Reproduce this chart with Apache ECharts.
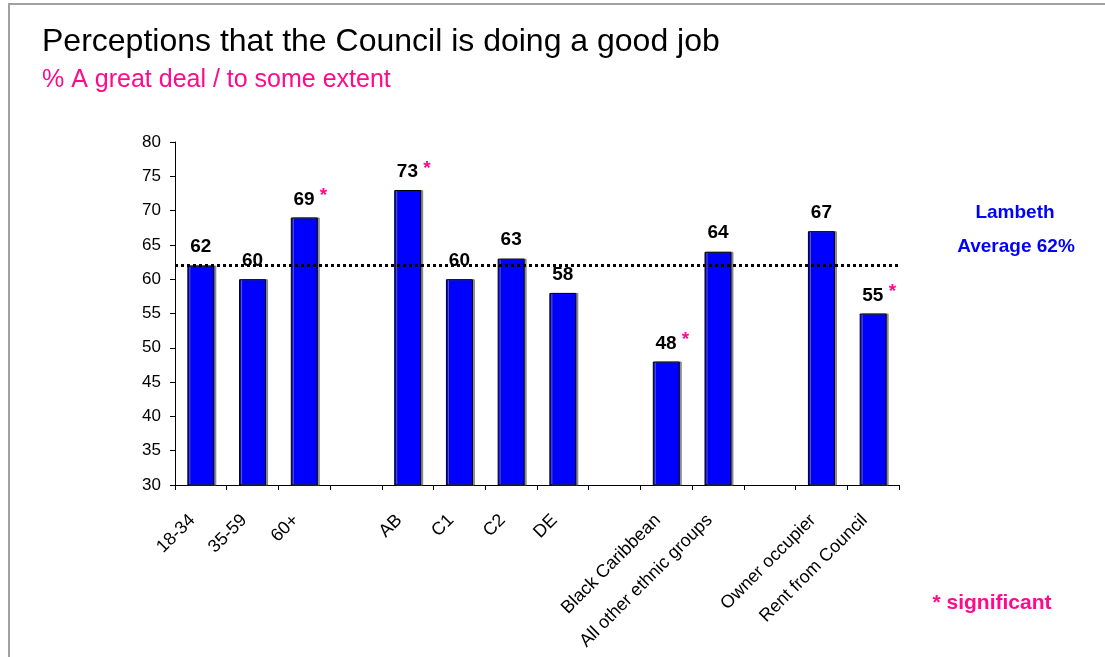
<!DOCTYPE html>
<html>
<head>
<meta charset="utf-8">
<script src="https://cdn.jsdelivr.net/npm/echarts@6/dist/echarts.min.js"></script>
<style>
  html, body { margin: 0; padding: 0; background: #fff; }
  #chart { width: 1105px; height: 657px; }
</style>
</head>
<body>
<div id="chart"></div>
<script>
// Groups are separated by empty categories
const categories = ['18-34', '35-59', '60+', '', 'AB', 'C1', 'C2', 'DE', '',
  'Black Caribbean', 'All other ethnic groups', '', 'Owner occupier', 'Rent from Council'];
const values = [62, 60, 69, null, 73, 60, 63, 58, null, 48, 64, null, 67, 55];
const significant = [false, false, true, false, true, false, false, false, false,
  true, false, false, false, true];
const lambethAverage = 62;
const yTicks = { min: 30, max: 80, step: 5 };

const PINK = '#FF0A8C';
const FONT = 'Liberation Sans, Arial, sans-serif';

const barData = values.map((v, i) => {
  if (v == null) return null;
  const item = { value: v };
  if (significant[i]) {
    item.label = {
      formatter: '{v|{c}}{s| *}',
      offset: [6, 4]
    };
  }
  return item;
});

const chart = echarts.init(document.getElementById('chart'));
chart.setOption({
  animation: false,
  textStyle: { fontFamily: FONT },
  grid: { left: 175, right: 206, top: 142, bottom: 172 },
  graphic: [
    {
      type: 'rect', silent: true,
      shape: { x: 9, y: 4, width: 1200, height: 700 },
      style: { fill: 'none', stroke: '#a0a0a0', lineWidth: 2 }
    },
    {
      type: 'text', x: 42, y: 42,
      style: { text: 'Perceptions that the Council is doing a good job',
        font: '32px ' + FONT, fill: '#000', verticalAlign: 'middle' }
    },
    {
      type: 'text', x: 42, y: 80,
      style: { text: '% A great deal / to some extent',
        font: '25px ' + FONT, fill: PINK, verticalAlign: 'middle' }
    },
    {
      type: 'text', x: 1015, y: 213,
      style: { text: 'Lambeth', font: 'bold 19px ' + FONT, fill: '#0000FF',
        align: 'center', verticalAlign: 'middle' }
    },
    {
      type: 'text', x: 1016, y: 247,
      style: { text: 'Average 62%', font: 'bold 19px ' + FONT, fill: '#0000FF',
        align: 'center', verticalAlign: 'middle' }
    },
    {
      type: 'text', x: 992, y: 603,
      style: { text: '* significant', font: 'bold 21px ' + FONT, fill: PINK,
        align: 'center', verticalAlign: 'middle' }
    }
  ],
  xAxis: {
    type: 'category',
    data: categories,
    boundaryGap: true,
    axisLine: { lineStyle: { color: '#000', width: 1 } },
    axisTick: { show: true, alignWithLabel: false, interval: 0, length: 5,
      lineStyle: { color: '#000' } },
    axisLabel: { interval: 0, rotate: 45, fontSize: 18, color: '#000',
      fontFamily: FONT, margin: 24, padding: [0, 12, 0, 0] },
    splitLine: { show: false }
  },
  yAxis: {
    type: 'value',
    min: yTicks.min, max: yTicks.max, interval: yTicks.step,
    axisLine: { show: true, lineStyle: { color: '#000', width: 1 } },
    axisTick: { show: true, length: 5, lineStyle: { color: '#000' } },
    axisLabel: { fontSize: 17, color: '#000', fontFamily: FONT, margin: 14 },
    splitLine: { show: false }
  },
  series: [{
    type: 'bar',
    data: barData,
    barWidth: 27,
    itemStyle: {
      color: '#0000FF',
      borderColor: '#000',
      borderWidth: 1,
      shadowColor: 'rgba(120,120,120,0.8)',
      shadowOffsetX: 2,
      shadowOffsetY: 0,
      shadowBlur: 0
    },
    label: {
      show: true,
      position: 'top',
      distance: 9,
      formatter: '{v|{c}}',
      rich: {
        v: { fontSize: 19, fontWeight: 'bold', color: '#000', fontFamily: FONT },
        s: { fontSize: 19, fontWeight: 'bold', color: PINK, fontFamily: FONT,
          padding: [0, 0, 7, 0] }
      }
    },
    markLine: {
      silent: true,
      symbol: 'none',
      z: 10,
      label: { show: false },
      lineStyle: { color: '#000', width: 3, type: [3, 3], cap: 'butt' },
      data: [{ yAxis: lambethAverage }]
    }
  }]
});
</script>
</body>
</html>
